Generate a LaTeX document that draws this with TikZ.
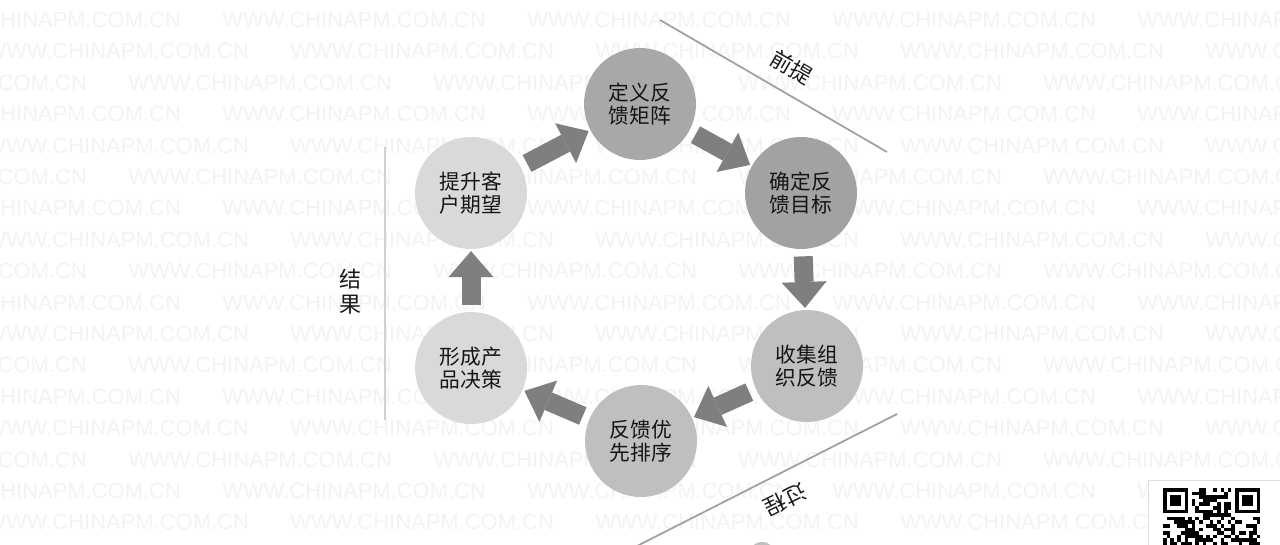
\documentclass[tikz,border=0pt]{standalone}
\usepackage{fontspec}
\newfontfamily\cjk{Noto Sans CJK SC}
\newfontfamily\wmfont{Liberation Sans}
\usetikzlibrary{arrows.meta}
\definecolor{c1}{HTML}{A8A8A8}
\definecolor{c2}{HTML}{A2A2A2}
\definecolor{c3}{HTML}{BFBFBF}
\definecolor{c4}{HTML}{D9D9D9}
\definecolor{arrowgray}{HTML}{7F7F7F}
\definecolor{sepgray}{HTML}{A0A0A0}
\definecolor{wmgray}{HTML}{F3F3F3}
\begin{document}
\begin{tikzpicture}[x=0.02cm,y=-0.02cm,
  stage/.style={circle,minimum size=2.24cm,inner sep=0pt,align=center,
    font=\cjk\fontsize{11.8}{12.8}\selectfont,text=black!92},
  blk/.style={draw=arrowgray,line width=0.38cm,
    -{Triangle[width=0.9cm,length=0.52cm,line width=0pt]},
    shorten <=4pt,shorten >=1pt},
  sep/.style={draw=sepgray,line width=1pt},
  lab/.style={font=\cjk\fontsize{12.5}{14.2}\selectfont,text=black!90,inner sep=0pt,align=center},
  wm/.style={font=\wmfont\fontsize{12.5}{12.5}\selectfont,text=wmgray,inner sep=0pt,anchor=west}]
\path[use as bounding box,fill=white] (0,0) rectangle (1280,544);
\clip (0,0) rectangle (1280,544);
% watermark
\foreach \r [evaluate=\r as \yy using 20+31.4*\r,
             evaluate=\r as \off using {mod(\r,3)==0 ? 222 : (mod(\r,3)==1 ? 290 : 128)}] in {0,...,16}{
  \foreach \k in {-1,0,1,2,3}{
    \node[wm] (wm-\r-\k) at ({\off+305*\k},\yy) {WWW.CHINAPM.COM.CN};
  }
}
% stages
\node[stage,fill=c1] (dingyi)  at (640,104) {定义反\\馈矩阵};
\node[stage,fill=c2] (queding) at (801,193) {确定反\\馈目标};
\node[stage,fill=c3] (shouji)  at (807,366) {收集组\\织反馈};
\node[stage,fill=c3] (youxian) at (641,441) {反馈优\\先排序};
\node[stage,fill=c4] (juece)   at (471,368) {形成产\\品决策};
\node[stage,fill=c4] (tisheng) at (471,193) {提升客\\户期望};
% block arrows
\draw[blk] (tisheng) -- (dingyi);
\draw[blk] (dingyi) -- (queding);
\draw[blk] (queding) -- (shouji);
\draw[blk] (shouji) -- (youxian);
\draw[blk] (youxian) -- (juece);
\draw[blk] (juece) -- (tisheng);
% separators and labels
\coordinate (q1) at (660,20);
\coordinate (q2) at (887,152);
\draw[sep] (q1) -- (q2);
\node[lab,rotate=-30] (qianti) at (792,67) {前提};
\coordinate (g1) at (637,546);
\coordinate (g2) at (897,414);
\draw[sep] (g1) -- (g2);
\node[lab,rotate=206] (guocheng) at (785,500) {过程};
\coordinate (j1) at (385,147);
\coordinate (j2) at (385,420);
\draw[draw=black!18,line width=1.2pt] (j1) -- (j2);
\node[lab] (jieguo) at (350,292) {结\\果};
% bottom fragments
\fill[c3] (762,556) circle (14);
% QR code
\draw[black!12,fill=white] (1148,480) rectangle (1300,570);
\pgfmathsetseed{7}
\foreach \i in {0,...,26}{
  \foreach \j in {0,...,15}{
    \pgfmathparse{rnd<0.5?1:0}
    \ifnum\pgfmathresult=1
      \fill[black] ({1163+3.6*\i},{488+3.6*\j}) rectangle ++(3.6,3.6);
    \fi
  }
}
\foreach \fx in {0,20}{
  \fill[white] ({1163+3.6*\fx-3.6},{488-3.6}) rectangle ++(32.4,32.4);
  \fill[black] ({1163+3.6*\fx},488) rectangle ++(25.2,25.2);
  \fill[white] ({1163+3.6*\fx+3.6},{488+3.6}) rectangle ++(18,18);
  \fill[black] ({1163+3.6*\fx+7.2},{488+7.2}) rectangle ++(10.8,10.8);
}
\fill[white] (1163,{488+3.6*21}) rectangle ++(40,20);
\end{tikzpicture}
\end{document}
